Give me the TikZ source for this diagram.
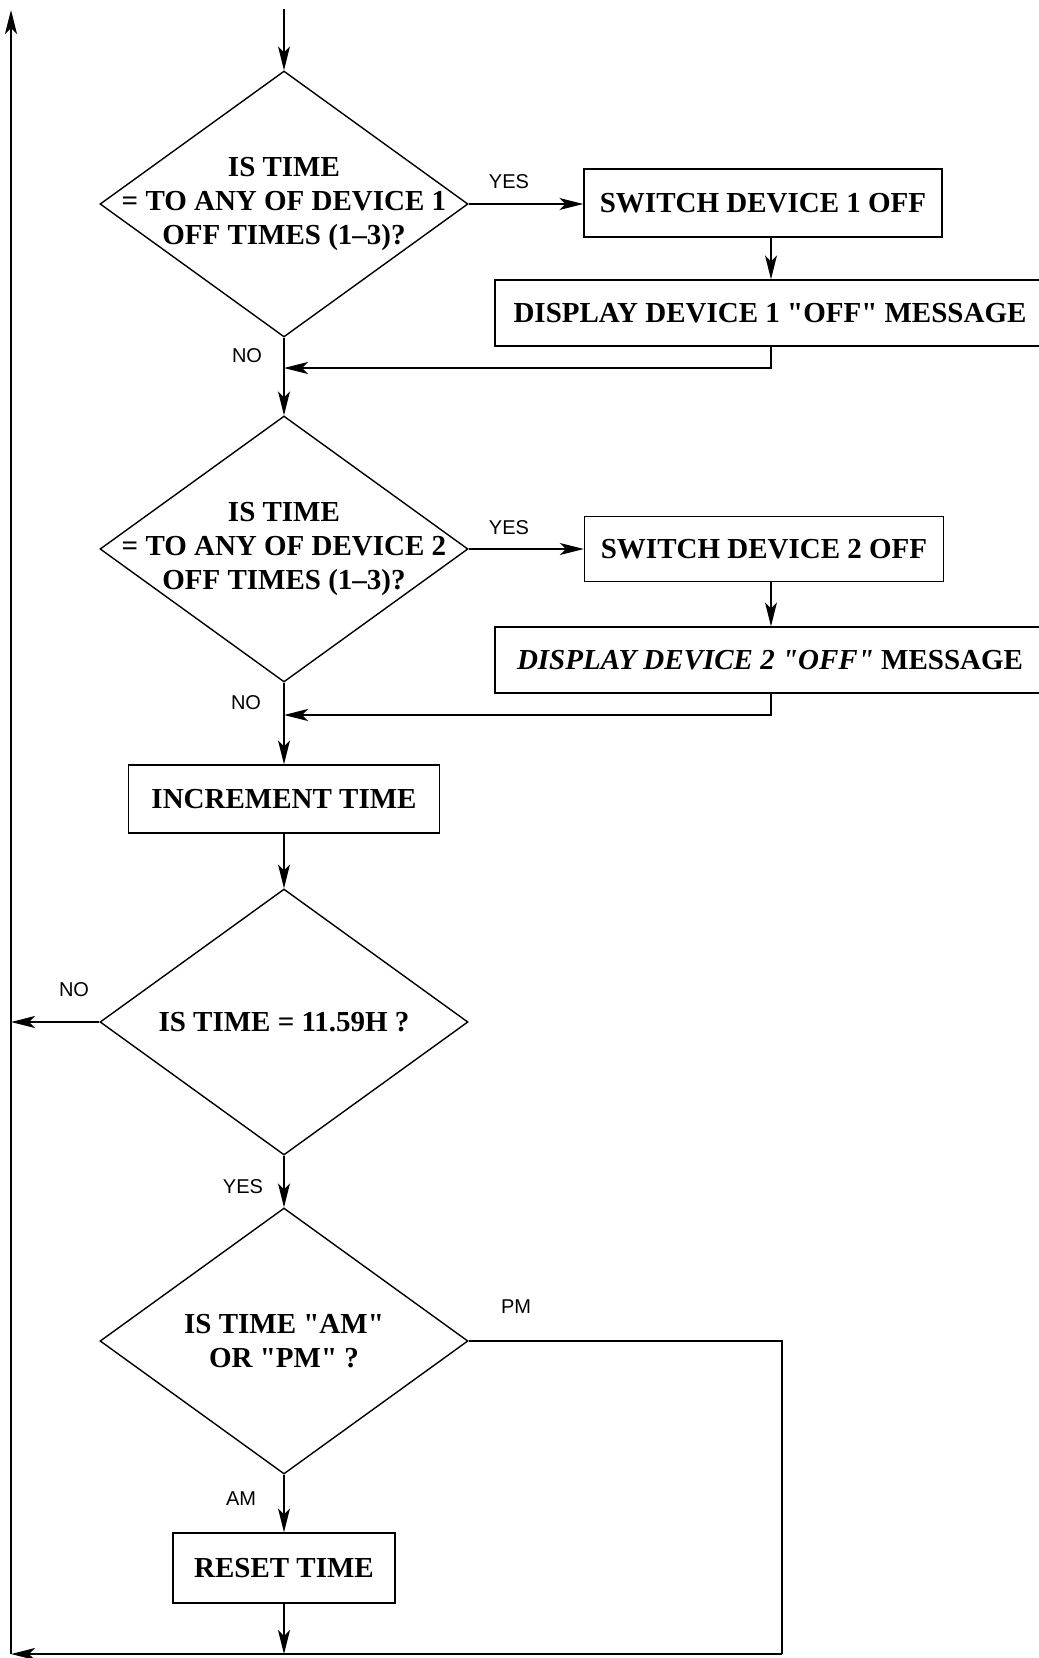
\documentclass[tikz,border=0pt]{standalone}
\usepackage{fontspec}
\setmainfont{Liberation Serif}
\newfontfamily\lblfont{Liberation Sans}
\usetikzlibrary{shapes.geometric,arrows.meta}
\newcommand{\qq}{\textquotedbl}
\begin{document}
\begin{tikzpicture}[x=1pt,y=-1pt,
  line width=1.4pt,
  arr/.style={-{Stealth[length=24pt,width=12pt,inset=6pt]}},
  dec/.style={diamond, draw, minimum width=368pt, minimum height=266pt, inner sep=0pt},
  btext/.style={font=\fontsize{29}{34}\selectfont\bfseries, align=center, inner sep=0pt},
  box/.style={draw, rectangle, inner sep=0pt, font=\fontsize{29}{34}\selectfont\bfseries},
  lbl/.style={font=\fontsize{20}{23}\selectfont\lblfont, inner sep=0pt}]
\useasboundingbox (0,0) rectangle (1039,1658);

% coordinates
\coordinate (top) at (284,9);
\coordinate (ltop) at (11,10);
\coordinate (lbot) at (11,1654);
\coordinate (rbot) at (782,1654);
\coordinate (c1) at (771,0);
\coordinate (j1) at (284,368);
\coordinate (j2) at (284,715);

% decisions
\node[dec] (d1) at (284,204) {};
\node[btext] (t1) at (d1.center) {IS TIME\\= TO ANY OF DEVICE 1\\OFF TIMES (1--3)?};
\node[dec] (d2) at (284,549) {};
\node[btext] (t2) at (d2.center) {IS TIME\\= TO ANY OF DEVICE 2\\OFF TIMES (1--3)?};
\node[dec] (d3) at (284,1022) {};
\node[btext] (t3) at (d3.center) {IS TIME = 11.59H ?};
\node[dec] (d4) at (284,1341) {};
\node[btext] (t4) at (d4.center) {IS TIME \qq AM\qq\\OR \qq PM\qq\ ?};

% boxes
\node[box, minimum width=358pt, minimum height=68pt] (b1) at (763,203) {SWITCH DEVICE 1 OFF};
\node[box, minimum width=550pt, minimum height=66pt] (b2) at (770,313) {DISPLAY DEVICE 1 \qq OFF\qq\ MESSAGE};
\node[box, minimum width=359pt, minimum height=65pt] (b3) at (764,549) {SWITCH DEVICE 2 OFF};
\node[box, minimum width=550pt, minimum height=66pt] (b4) at (770,660) {{\itshape DISPLAY DEVICE 2 \qq OFF\qq}\ MESSAGE};
\node[box, minimum width=311pt, minimum height=68pt] (b5) at (284,799) {INCREMENT TIME};
\node[box, minimum width=222pt, minimum height=70pt] (b6) at (284,1568) {RESET TIME};

% labels
\node[lbl] (y1) at (509,182) {YES};
\node[lbl] (y2) at (509,528) {YES};
\node[lbl] (n1) at (247,356) {NO};
\node[lbl] (n2) at (246,703) {NO};
\node[lbl] (n3) at (74,990) {NO};
\node[lbl] (y3) at (243,1187) {YES};
\node[lbl] (pm) at (516,1307) {PM};
\node[lbl] (am) at (241,1499) {AM};

% connectors
\draw[arr] (top) -- (d1.north);
\draw[arr] (d1.east) -- (d1.east -| b1.west);
\draw[arr] (b1.south -| c1) -- (b2.north -| c1);
\draw[arr] (b2.south -| c1) |- (j1);
\draw[arr] (d1.south) -- (d2.north);
\draw[arr] (d2.east) -- (d2.east -| b3.west);
\draw[arr] (b3.south -| c1) -- (b4.north -| c1);
\draw[arr] (b4.south -| c1) |- (j2);
\draw[arr] (d2.south) -- (b5.north);
\draw[arr] (b5.south) -- (d3.north);
\draw[arr] (d3.west) -- (d3.west -| lbot);
\draw[arr] (d3.south) -- (d4.north);
\draw (d4.east) -| (rbot);
\draw[arr] (rbot) -- (lbot);
\draw[arr] (lbot) -- (ltop);
\draw[arr] (d4.south) -- (b6.north);
\draw[arr] (b6.south) -- (b6.south |- lbot);
\end{tikzpicture}
\end{document}
